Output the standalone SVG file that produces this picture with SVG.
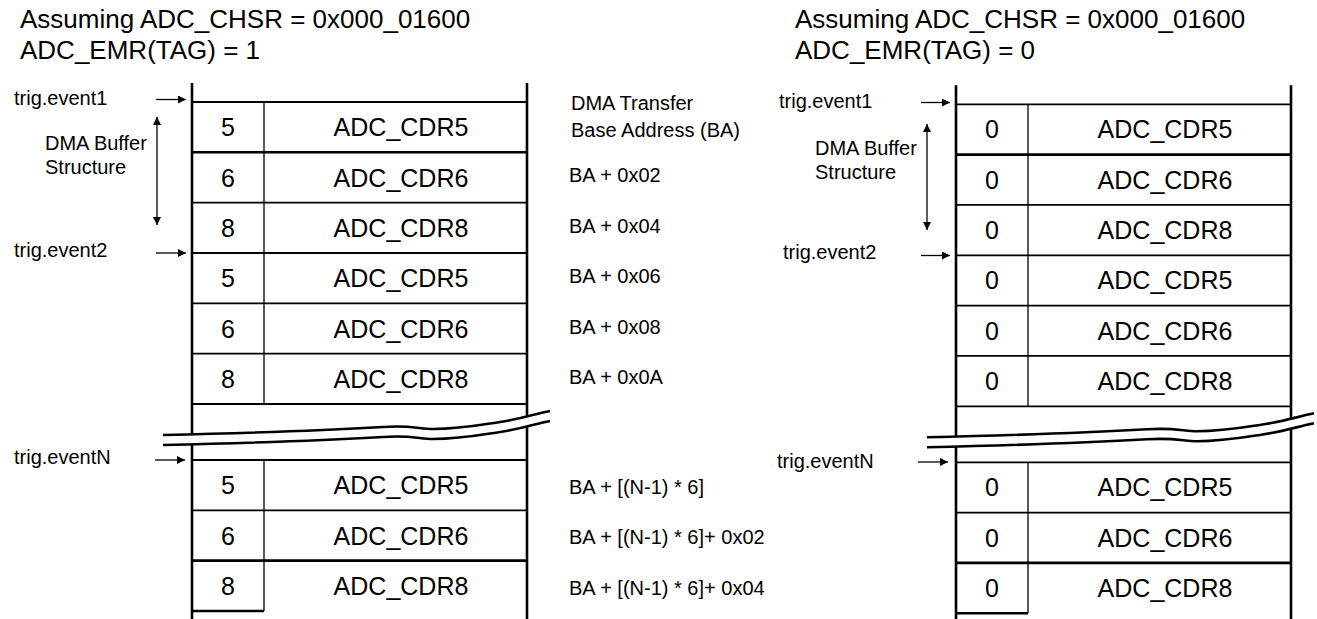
<svg xmlns="http://www.w3.org/2000/svg" width="1317" height="619" viewBox="0 0 1317 619">
<defs>
<style>
text{font-family:"Liberation Sans",Arial,sans-serif;fill:#000}
.title{font-size:26px}
.cell{font-size:25px;text-anchor:middle}
.lbl{font-size:20px}
.addr{font-size:20px}
.v{stroke:#000;stroke-width:2.6;fill:none}
.h{stroke:#000;stroke-width:1.8;fill:none}
.hb{stroke:#000;stroke-width:2.6;fill:none}
.d{stroke:#000;stroke-width:1.3;fill:none}
.brk{stroke:#000;stroke-width:2.6;fill:none}
.arr{stroke:#000;stroke-width:1.3;fill:none}
</style>
<marker id="ah" viewBox="0 0 10 10" refX="10" refY="5" markerWidth="10" markerHeight="8" markerUnits="userSpaceOnUse" orient="auto-start-reverse"><path d="M0,0 L10,5 L0,10 Z" fill="#000"/></marker>
<g id="tableShape">
<line class="v" x1="192" y1="83" x2="192" y2="619"/>
<line class="v" x1="527" y1="83" x2="527" y2="619"/>
<line class="h" x1="192" y1="102" x2="527" y2="102"/>
<line class="hb" x1="192" y1="152.3" x2="527" y2="152.3"/>
<line class="h" x1="192" y1="202.6" x2="527" y2="202.6"/>
<line class="h" x1="192" y1="253" x2="527" y2="253"/>
<line class="h" x1="192" y1="303.3" x2="527" y2="303.3"/>
<line class="h" x1="192" y1="353.6" x2="527" y2="353.6"/>
<line class="h" x1="192" y1="404" x2="527" y2="404"/>
<line class="h" x1="192" y1="460" x2="527" y2="460"/>
<line class="h" x1="192" y1="510.3" x2="527" y2="510.3"/>
<line class="hb" x1="192" y1="560.6" x2="527" y2="560.6"/>
<line class="hb" x1="192" y1="611" x2="264" y2="611"/>
<line class="d" x1="264" y1="102" x2="264" y2="404"/>
<line class="d" x1="264" y1="460" x2="264" y2="611"/>
<path d="M160,435 C250,433 330,430 383,427 C410,425 420,429 433,429 C460,429 480,425 500,422 C520,419 535,414 552,410 L552,420 C535,424 520,429 500,432 C480,435 460,439 433,439 C420,439 410,435 383,437 C330,440 250,443 160,445 Z" fill="#fff" stroke="none"/>
<path class="brk" d="M163,435 C250,433 330,430 383,427 C410,425 420,429 433,429 C460,429 480,425 500,422 C520,419 535,414 550,411"/>
<path class="brk" d="M163,445 C250,443 330,440 383,437 C410,435 420,439 433,439 C460,439 480,435 500,432 C520,429 535,424 550,421"/>
</g>
</defs>

<g id="title-left">
<text class="title" x="20" y="28">Assuming ADC_CHSR = 0x000_01600</text>
<text class="title" x="20" y="59">ADC_EMR(TAG) = 1</text>
</g>
<g id="title-right">
<text class="title" x="795" y="28">Assuming ADC_CHSR = 0x000_01600</text>
<text class="title" x="795" y="59">ADC_EMR(TAG) = 0</text>
</g>

<g id="left-table">
<use href="#tableShape"/>
<g id="l-row1"><text class="cell" x="228" y="136">5</text><text class="cell" x="401" y="136">ADC_CDR5</text></g>
<g id="l-row2"><text class="cell" x="228" y="186.5">6</text><text class="cell" x="401" y="186.5">ADC_CDR6</text></g>
<g id="l-row3"><text class="cell" x="228" y="237">8</text><text class="cell" x="401" y="237">ADC_CDR8</text></g>
<g id="l-row4"><text class="cell" x="228" y="287">5</text><text class="cell" x="401" y="287">ADC_CDR5</text></g>
<g id="l-row5"><text class="cell" x="228" y="337.5">6</text><text class="cell" x="401" y="337.5">ADC_CDR6</text></g>
<g id="l-row6"><text class="cell" x="228" y="388">8</text><text class="cell" x="401" y="388">ADC_CDR8</text></g>
<g id="l-row7"><text class="cell" x="228" y="494">5</text><text class="cell" x="401" y="494">ADC_CDR5</text></g>
<g id="l-row8"><text class="cell" x="228" y="544.5">6</text><text class="cell" x="401" y="544.5">ADC_CDR6</text></g>
<g id="l-row9"><text class="cell" x="228" y="595">8</text><text class="cell" x="401" y="595">ADC_CDR8</text></g>
</g>

<g id="right-table">
<use href="#tableShape" transform="translate(764,2.3)"/>
<g id="r-row1"><text class="cell" x="992" y="138.3">0</text><text class="cell" x="1165" y="138.3">ADC_CDR5</text></g>
<g id="r-row2"><text class="cell" x="992" y="188.8">0</text><text class="cell" x="1165" y="188.8">ADC_CDR6</text></g>
<g id="r-row3"><text class="cell" x="992" y="239.3">0</text><text class="cell" x="1165" y="239.3">ADC_CDR8</text></g>
<g id="r-row4"><text class="cell" x="992" y="289.3">0</text><text class="cell" x="1165" y="289.3">ADC_CDR5</text></g>
<g id="r-row5"><text class="cell" x="992" y="339.8">0</text><text class="cell" x="1165" y="339.8">ADC_CDR6</text></g>
<g id="r-row6"><text class="cell" x="992" y="390.3">0</text><text class="cell" x="1165" y="390.3">ADC_CDR8</text></g>
<g id="r-row7"><text class="cell" x="992" y="496.3">0</text><text class="cell" x="1165" y="496.3">ADC_CDR5</text></g>
<g id="r-row8"><text class="cell" x="992" y="546.8">0</text><text class="cell" x="1165" y="546.8">ADC_CDR6</text></g>
<g id="r-row9"><text class="cell" x="992" y="597.3">0</text><text class="cell" x="1165" y="597.3">ADC_CDR8</text></g>
</g>

<g id="left-labels">
<text class="lbl" x="14" y="105">trig.event1</text>
<text class="lbl" x="45" y="150">DMA Buffer</text>
<text class="lbl" x="45" y="174">Structure</text>
<text class="lbl" x="14" y="257">trig.event2</text>
<text class="lbl" x="14" y="464">trig.eventN</text>
</g>
<g id="address-labels">
<text class="addr" x="571" y="110">DMA Transfer</text>
<text class="addr" x="571" y="137">Base Address (BA)</text>
<text class="addr" x="569" y="182">BA + 0x02</text>
<text class="addr" x="569" y="233">BA + 0x04</text>
<text class="addr" x="569" y="283">BA + 0x06</text>
<text class="addr" x="569" y="334">BA + 0x08</text>
<text class="addr" x="569" y="384">BA + 0x0A</text>
<text class="addr" x="569" y="494">BA + [(N-1) * 6]</text>
<text class="addr" x="569" y="544">BA + [(N-1) * 6]+ 0x02</text>
<text class="addr" x="569" y="595">BA + [(N-1) * 6]+ 0x04</text>
</g>
<g id="right-labels">
<text class="lbl" x="779" y="108">trig.event1</text>
<text class="lbl" x="815" y="155">DMA Buffer</text>
<text class="lbl" x="815" y="179">Structure</text>
<text class="lbl" x="783" y="259">trig.event2</text>
<text class="lbl" x="777" y="468">trig.eventN</text>
</g>

<g id="connectors">
<line class="arr" x1="156" y1="99.5" x2="186" y2="99.5" marker-end="url(#ah)"/>
<line class="arr" x1="156" y1="253" x2="186" y2="253" marker-end="url(#ah)"/>
<line class="arr" x1="155" y1="460" x2="185" y2="460" marker-end="url(#ah)"/>
<line class="arr" x1="157" y1="117" x2="157" y2="225" marker-start="url(#ah)" marker-end="url(#ah)"/>
<line class="arr" x1="921" y1="102.5" x2="950" y2="102.5" marker-end="url(#ah)"/>
<line class="arr" x1="921" y1="255.5" x2="950" y2="255.5" marker-end="url(#ah)"/>
<line class="arr" x1="918" y1="462" x2="948" y2="462" marker-end="url(#ah)"/>
<line class="arr" x1="927" y1="124" x2="927" y2="230" marker-start="url(#ah)" marker-end="url(#ah)"/>
</g>
</svg>
